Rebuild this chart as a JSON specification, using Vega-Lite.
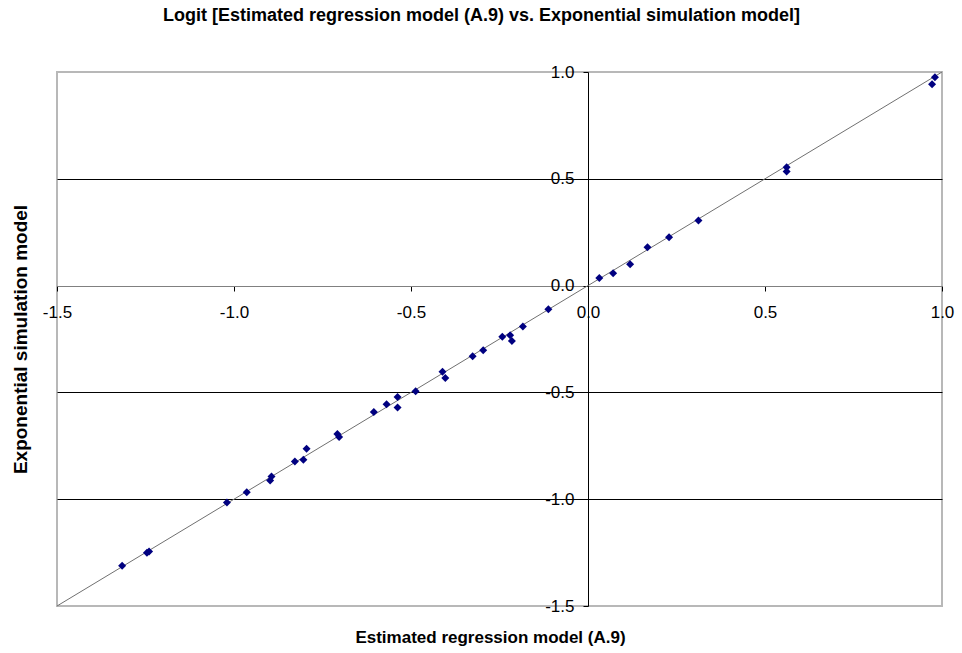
{
  "$schema": "https://vega.github.io/schema/vega-lite/v6.json",
  "width": 885,
  "height": 534,
  "autosize": "none",
  "padding": {"left": 57, "top": 72, "right": 20, "bottom": 47},
  "background": "white",
  "title": {
    "text": "Logit [Estimated regression model (A.9) vs. Exponential simulation model]",
    "font": "Liberation Sans",
    "fontSize": 18,
    "fontWeight": "bold",
    "color": "black",
    "anchor": "middle",
    "frame": "group",
    "dx": -18,
    "baseline": "alphabetic",
    "offset": 24
  },
  "config": {
    "view": {"stroke": "#b8b8b8", "strokeWidth": 2},
    "axis": {
      "labelFont": "Liberation Sans",
      "labelFontSize": 17,
      "labelColor": "black",
      "titleFont": "Liberation Sans",
      "titleFontWeight": "bold",
      "titleColor": "black",
      "tickColor": "black",
      "tickSize": 5,
      "labelFlush": false,
      "labelOverlap": false,
      "labelBound": false
    }
  },
  "datasets": {
    "diagonal": [
      {"x": -1.5, "y": -1.5},
      {"x": 1.0, "y": 1.0}
    ],
    "pairs": [
      {"x": -1.316, "y": -1.312},
      {"x": -1.246, "y": -1.251},
      {"x": -1.240, "y": -1.245},
      {"x": -1.020, "y": -1.016},
      {"x": -0.964, "y": -0.967},
      {"x": -0.898, "y": -0.912},
      {"x": -0.894, "y": -0.894},
      {"x": -0.828, "y": -0.823},
      {"x": -0.804, "y": -0.815},
      {"x": -0.795, "y": -0.764},
      {"x": -0.708, "y": -0.695},
      {"x": -0.703, "y": -0.709},
      {"x": -0.605, "y": -0.592},
      {"x": -0.569, "y": -0.556},
      {"x": -0.538, "y": -0.522},
      {"x": -0.538, "y": -0.571},
      {"x": -0.487, "y": -0.495},
      {"x": -0.411, "y": -0.403},
      {"x": -0.403, "y": -0.433},
      {"x": -0.326, "y": -0.331},
      {"x": -0.296, "y": -0.303},
      {"x": -0.242, "y": -0.240},
      {"x": -0.220, "y": -0.233},
      {"x": -0.215, "y": -0.259},
      {"x": -0.184, "y": -0.192},
      {"x": -0.112, "y": -0.111},
      {"x": 0.032, "y": 0.036},
      {"x": 0.071, "y": 0.058},
      {"x": 0.119, "y": 0.100},
      {"x": 0.168, "y": 0.179},
      {"x": 0.229, "y": 0.226},
      {"x": 0.312, "y": 0.305},
      {"x": 0.561, "y": 0.554},
      {"x": 0.561, "y": 0.534},
      {"x": 0.972, "y": 0.943},
      {"x": 0.980, "y": 0.976}
    ]
  },
  "encoding": {
    "x": {
      "field": "x",
      "type": "quantitative",
      "scale": {"domain": [-1.5, 1.0], "nice": false, "zero": false},
      "axis": {
        "orient": "bottom",
        "offset": -320,
        "values": [-1.5, -1.0, -0.5, 0, 0.5, 1.0],
        "labelExpr": "datum.value < 0 ? '-' + format(-datum.value, '.1f') : format(datum.value, '.1f')",
        "labelPadding": 13,
        "domainColor": "#808080",
        "grid": false,
        "title": "Estimated regression model (A.9)",
        "titleFontSize": 17,
        "titleX": 433,
        "titleY": 351,
        "titleBaseline": "middle"
      }
    },
    "y": {
      "field": "y",
      "type": "quantitative",
      "scale": {"domain": [-1.5, 1.0], "nice": false, "zero": false},
      "axis": {
        "orient": "left",
        "offset": -531,
        "values": [-1.5, -1.0, -0.5, 0, 0.5, 1.0],
        "labelExpr": "datum.value < 0 ? '-' + format(-datum.value, '.1f') : format(datum.value, '.1f')",
        "labelPadding": 9,
        "domainColor": "black",
        "grid": true,
        "gridColor": "black",
        "gridOpacity": {
          "condition": {"test": "datum.value > -1.4 && datum.value < 0.9 && datum.value != 0", "value": 1},
          "value": 0
        },
        "title": "Exponential simulation model",
        "titleFontSize": 19,
        "titleX": -568,
        "titleY": 267,
        "titleBaseline": "middle"
      }
    }
  },
  "layer": [
    {
      "data": {"name": "diagonal"},
      "mark": {"type": "line", "color": "#707070", "strokeWidth": 1}
    },
    {
      "data": {"name": "pairs"},
      "mark": {"type": "point", "shape": "diamond", "filled": true, "color": "#000080", "opacity": 1, "size": 64}
    }
  ]
}
